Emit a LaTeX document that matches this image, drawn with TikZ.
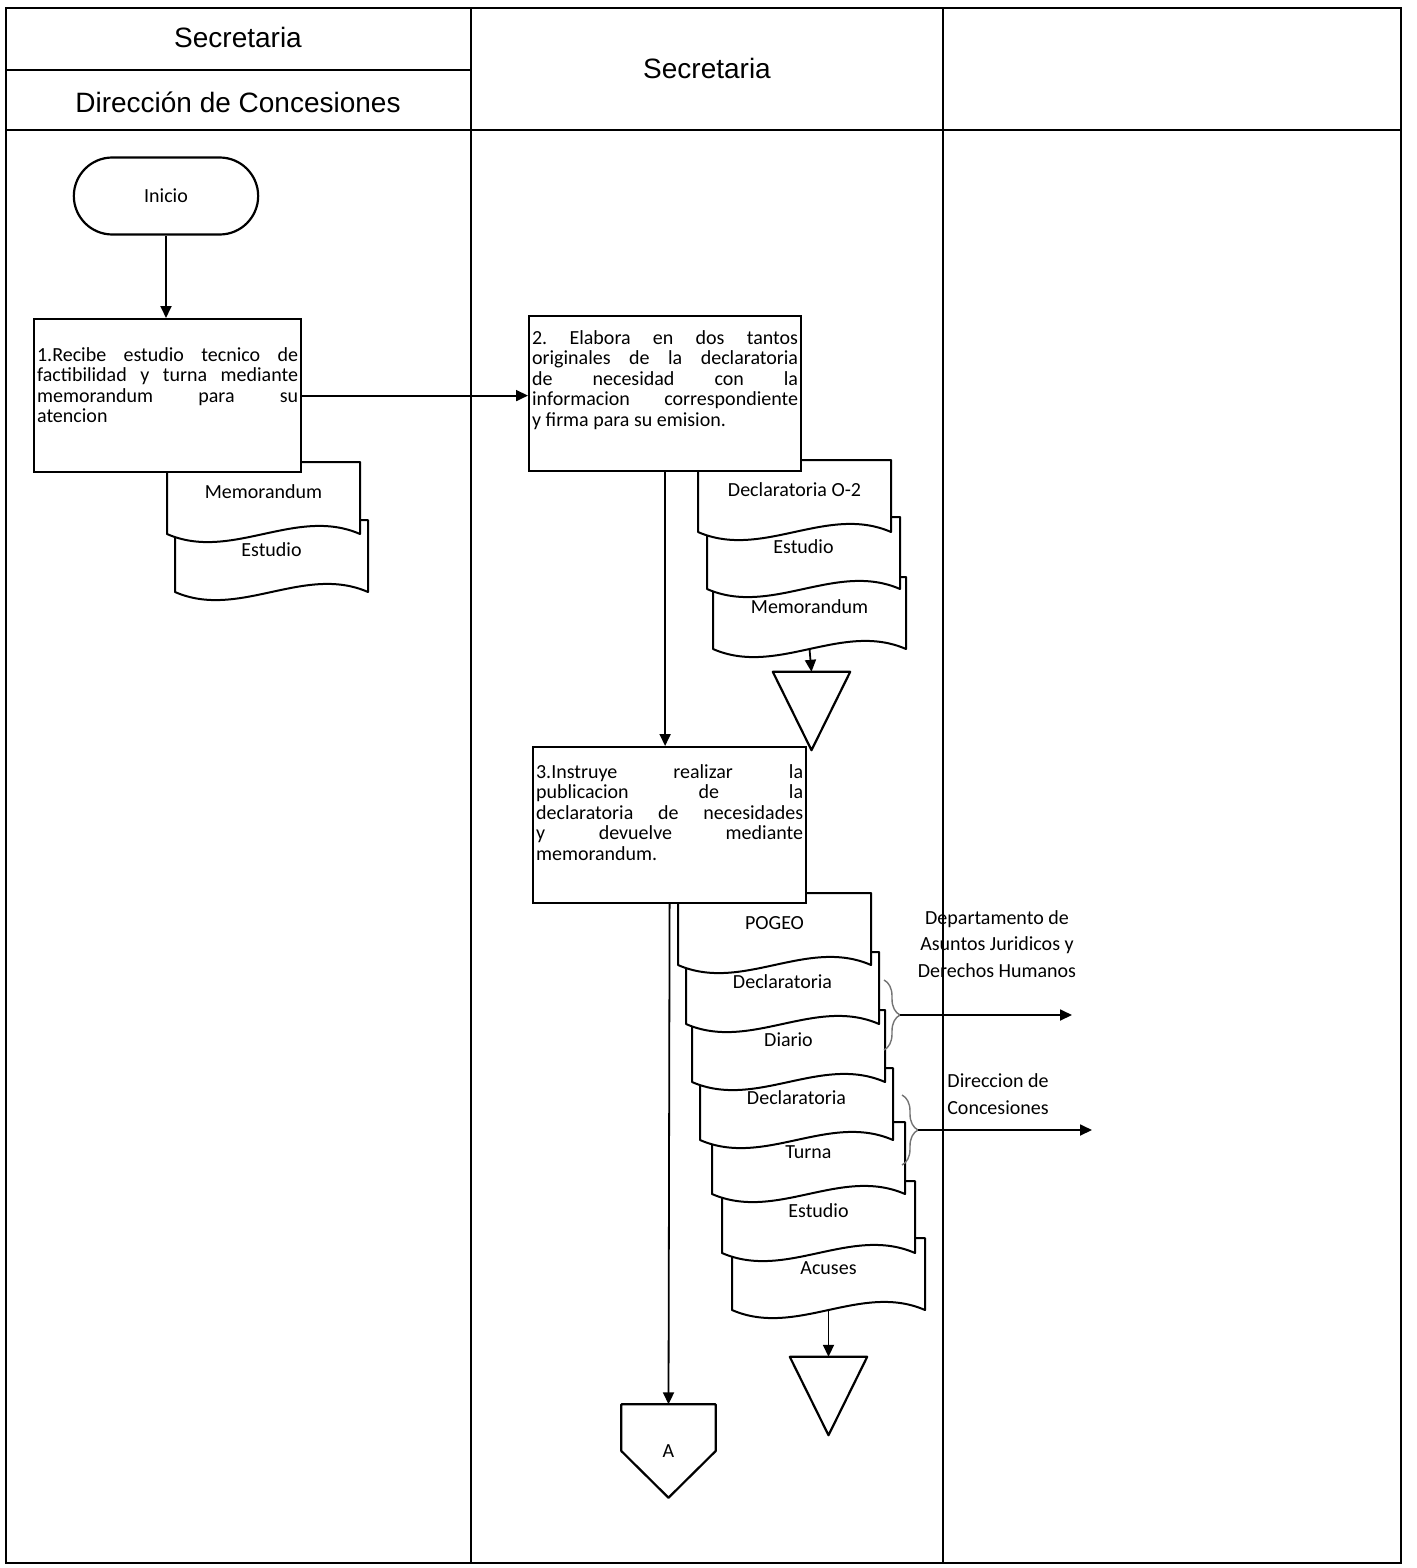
\documentclass[tikz,border=0pt]{standalone}
\usepackage{fontspec}
\setmainfont{Carlito}
\newfontfamily\headfont{Liberation Sans}
\usetikzlibrary{shapes.misc,arrows.meta,decorations.pathreplacing}
\frenchspacing

\newcommand{\flowfont}{\fontsize{20}{20.5}\selectfont}
\newcommand{\lanefont}{\headfont\fontsize{28}{30}\selectfont}
\newcommand{\docw}{193}
% documento: nombre, x, y (esquina superior izquierda), texto
\newcommand{\docu}[4]{%
  \draw[docline] (#2,#3) -- ++(\docw,0) -- ++(0,72)
    .. controls +(-64,-28) and +(64,28) .. ++(-\docw,0) -- cycle;
  \node[doctext] (#1) at (#2+96.5,#3+30) {#4};
  \coordinate (#1-b) at (#2+96.5,#3+72);}

\tikzset{
  lane/.style={line width=2.2pt},
  docline/.style={draw, fill=white, line width=2pt, line join=round},
  doctext/.style={inner sep=0pt, font=\flowfont},
  activity/.style={draw, fill=white, line width=2.2pt, anchor=north west,
    text width=#1, align=justify, inner xsep=3pt, inner ysep=0pt, font=\flowfont},
  arr/.style={-{Triangle[length=12pt,width=11pt]}, line width=1.8pt},
  store/.style={minimum width=77pt, minimum height=78pt, inner sep=0pt,
    append after command={\pgfextra{\draw[line width=2.2pt, line join=round]
      (\tikzlastnode.north west) -- (\tikzlastnode.north east)
      -- (\tikzlastnode.south) -- cycle;}}},
  offpage/.style={minimum width=94pt, minimum height=93pt, inner sep=0pt, font=\flowfont,
    append after command={\pgfextra{\draw[line width=2.2pt, line join=round]
      (\tikzlastnode.north west) -- (\tikzlastnode.north east) -- (\tikzlastnode.east)
      -- (\tikzlastnode.south) -- (\tikzlastnode.west) -- cycle;}}},
  bracket/.style={decorate, decoration={brace, amplitude=16pt}, draw=black!55, line width=1.4pt},
  outlabel/.style={align=center, font=\fontsize{20}{26.5}\selectfont}
}

\begin{document}
\begin{tikzpicture}[x=1pt, y=-1pt]
  \useasboundingbox (0,0) rectangle (1416,1568);

  % carriles
  \draw[lane] (6,8) rectangle (1401,1563);
  \draw[lane] (471,8) -- (471,1563);
  \draw[lane] (943,8) -- (943,1563);
  \draw[lane] (6,130) -- (1401,130);
  \draw[lane] (6,70) -- (471,70);
  \node[font=\lanefont, anchor=base] (hsec) at (238,48) {Secretaria};
  \node[font=\lanefont, anchor=base] (hdir) at (238,113) {Dirección de Concesiones};
  \node[font=\lanefont, anchor=base] (hsec2) at (707,79) {Secretaria};

  % Direccion de Concesiones
  \node[rounded rectangle, draw, line width=2.2pt, minimum width=191pt,
    minimum height=77pt, font=\flowfont] (inicio) at (166,196) {Inicio};
  \docu{d1est}{175}{520}{Estudio}
  \docu{d1mem}{167}{462}{Memorandum}
  \node[activity=261pt, text height=42pt, text depth=111pt] (b1) at (33,318)
    {1.Recibe estudio tecnico de\linebreak factibilidad y turna mediante\linebreak
     memorandum para su\linebreak atencion};

  % Secretaria
  \docu{d2mem}{713}{577}{Memorandum}
  \docu{d2est}{707}{517}{Estudio}
  \docu{d2dec}{698}{460}{Declaratoria O-2}
  \node[activity=266pt, text height=28pt, text depth=127pt] (b2) at (528,315)
    {2. Elabora en dos tantos\linebreak originales de la declaratoria\linebreak
     de necesidad con la\linebreak informacion correspondiente\linebreak
     y firma para su emision.};

  \docu{d3acu}{732}{1238}{Acuses}
  \docu{d3est}{722}{1181}{Estudio}
  \docu{d3tur}{712}{1122}{Turna}
  \docu{d3dec2}{700}{1068}{Declaratoria}
  \docu{d3dia}{692}{1010}{Diario}
  \docu{d3dec}{686}{952}{Declaratoria}
  \docu{d3pog}{678}{893}{POGEO}
  \node[activity=267pt, text height=31pt, text depth=125pt] (b3) at (532,746)
    {3.Instruye realizar la\linebreak publicacion de la\linebreak
     declaratoria de necesidades\linebreak y devuelve mediante\linebreak
     memorandum.};

  \node[store] (tri1) at (811.5,711) {};
  \node[store] (tri2) at (828.5,1396) {};
  \node[offpage] (offA) at (668.5,1451) {A};

  \draw[arr] (inicio.south) -- (inicio.south |- b1.north);
  \draw[arr] (b1.east) -- (b2.west |- b1.east);
  \draw[arr] (b2.south) -- (b2.south |- b3.north);
  \draw[arr] (d2mem-b) -- (tri1.north);
  \draw[arr] (b3.south) -- (offA.north);
  \draw[arr] (d3acu-b) -- (tri2.north);

  % turnos
  \draw[bracket] (884,980) -- (884,1050);
  \coordinate (br1) at (900,1015);
  \coordinate (to1) at (1072,1015);
  \draw[arr] (br1) -- (to1);
  \node[outlabel] (lbl1) at (997,944) {Departamento de\\Asuntos Juridicos y\\Derechos Humanos};
  \draw[bracket] (902,1095) -- (902,1165);
  \coordinate (br2) at (918,1130);
  \coordinate (to2) at (1092,1130);
  \draw[arr] (br2) -- (to2);
  \node[outlabel] (lbl2) at (998,1094) {Direccion de\\Concesiones};
\end{tikzpicture}
\end{document}
